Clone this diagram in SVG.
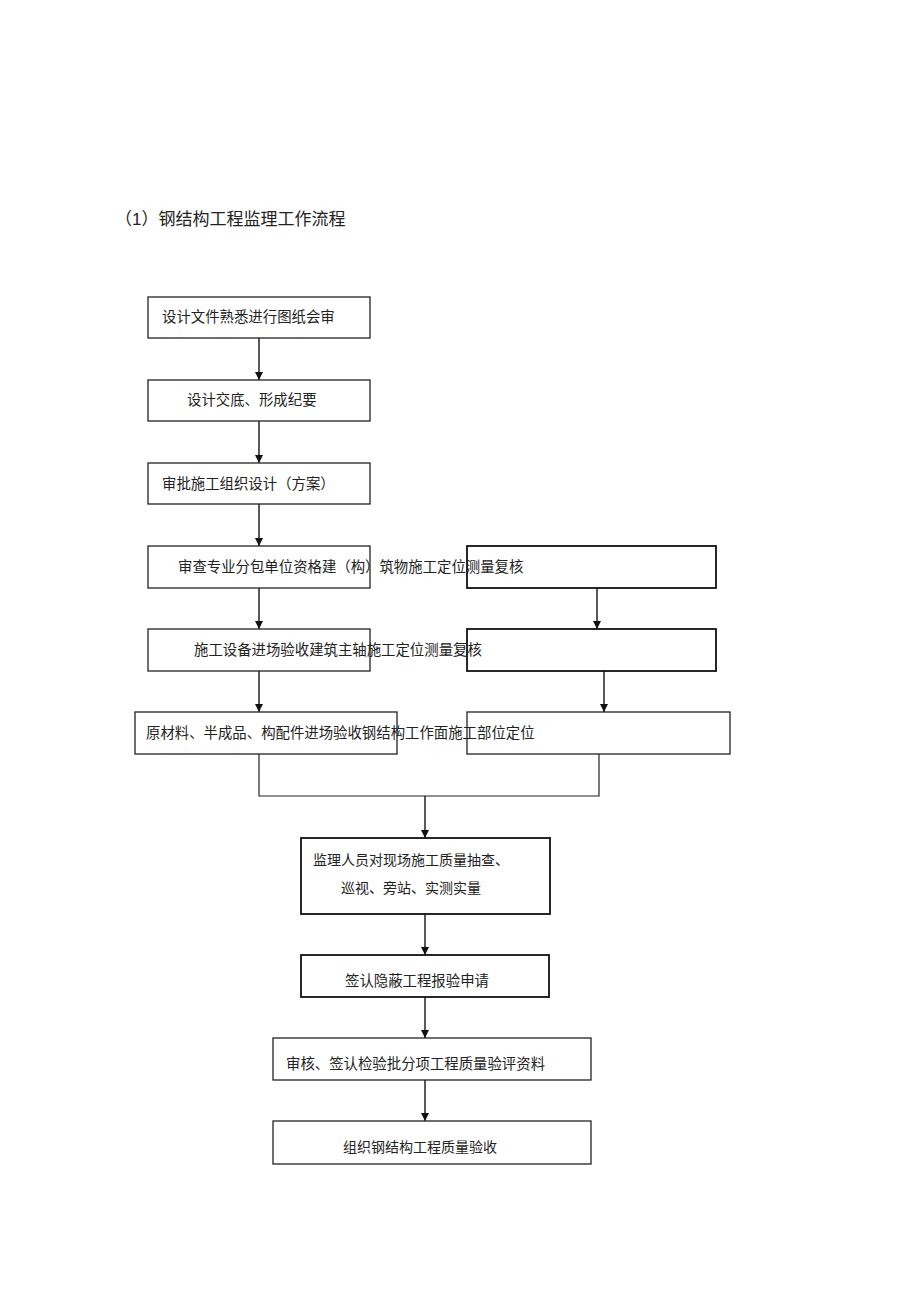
<svg xmlns="http://www.w3.org/2000/svg" width="920" height="1303" viewBox="0 0 920 1303">
<style>
.bx{fill:#fff;stroke:#222;stroke-width:1.3}
.bt{fill:#fff;stroke:#111;stroke-width:1.8}
.t{font-family:"Liberation Serif","Noto Sans CJK SC",serif;font-size:14.4px;fill:#222}
.ti{font-family:"Liberation Sans","Noto Sans CJK SC",sans-serif;font-size:17px;fill:#222}
.c{fill:none;stroke:#222;stroke-width:1.5}
</style>
<defs>
<marker id="ah" viewBox="0 0 10 10" refX="10" refY="5" markerWidth="8" markerHeight="8" markerUnits="userSpaceOnUse" orient="auto">
<path d="M0,0 L10,5 L0,10 z" fill="#111"/>
</marker>
</defs>
<rect width="920" height="1303" fill="#fff"/>
<text class="ti" x="115" y="225">（1）钢结构工程监理工作流程</text>
<g id="connectors">
<line class="c" x1="259" y1="338" x2="259" y2="380" marker-end="url(#ah)"/>
<line class="c" x1="259" y1="421" x2="259" y2="463" marker-end="url(#ah)"/>
<line class="c" x1="259" y1="504" x2="259" y2="546" marker-end="url(#ah)"/>
<line class="c" x1="259" y1="588" x2="259" y2="629" marker-end="url(#ah)"/>
<line class="c" x1="259" y1="671" x2="259" y2="712" marker-end="url(#ah)"/>
<line class="c" x1="597" y1="588" x2="597" y2="629" marker-end="url(#ah)"/>
<line class="c" x1="604" y1="671" x2="604" y2="712" marker-end="url(#ah)"/>
<polyline class="c" style="stroke-width:1.2" points="259,754 259,796 599,796 599,754"/>
<line class="c" x1="425" y1="796" x2="425" y2="838" marker-end="url(#ah)"/>
<line class="c" x1="425" y1="914" x2="425" y2="955" marker-end="url(#ah)"/>
<line class="c" x1="425" y1="997" x2="425" y2="1038" marker-end="url(#ah)"/>
<line class="c" x1="425" y1="1080" x2="425" y2="1121" marker-end="url(#ah)"/>
</g>
<g id="n1"><rect class="bx" x="148" y="297" width="222" height="41"/></g>
<g id="n2"><rect class="bx" x="148" y="380" width="222" height="41"/></g>
<g id="n3"><rect class="bx" x="148" y="463" width="222" height="41"/></g>
<g id="n4"><rect class="bx" x="148" y="546" width="222" height="42"/></g>
<g id="n4r"><rect class="bt" x="467" y="546" width="249" height="42"/></g>
<g id="n5"><rect class="bx" x="148" y="629" width="222" height="42"/></g>
<g id="n5r"><rect class="bt" x="467" y="629" width="249" height="42"/></g>
<g id="n6"><rect class="bx" x="135" y="712" width="262" height="42"/></g>
<g id="n6r"><rect class="bx" x="467" y="712" width="263" height="42"/></g>
<g id="n7"><rect class="bt" x="301" y="838" width="249" height="76"/></g>
<g id="n8"><rect class="bt" x="301" y="955" width="248" height="42"/></g>
<g id="n9"><rect class="bx" x="273" y="1038" width="318" height="42"/></g>
<g id="n10"><rect class="bx" x="273" y="1121" width="318" height="43"/></g>
<g id="labels">
<text class="t" x="162" y="322">设计文件熟悉进行图纸会审</text>
<text class="t" x="187" y="405">设计交底、形成纪要</text>
<text class="t" x="162" y="489">审批施工组织设计（方案）</text>
<text class="t" x="178" y="572">审查专业分包单位资格建（构）筑物施工定位测量复核</text>
<text class="t" x="194" y="655">施工设备进场验收建筑主轴施工定位测量复核</text>
<text class="t" x="146" y="738">原材料、半成品、构配件进场验收钢结构工作面施工部位定位</text>
<text class="t" x="313" y="865" style="font-size:14px">监理人员对现场施工质量抽查、</text>
<text class="t" x="341" y="893" style="font-size:14px">巡视、旁站、实测实量</text>
<text class="t" x="345" y="986">签认隐蔽工程报验申请</text>
<text class="t" x="286" y="1069">审核、签认检验批分项工程质量验评资料</text>
<text class="t" x="343" y="1152" style="font-size:14px">组织钢结构工程质量验收</text>
</g>
</svg>
